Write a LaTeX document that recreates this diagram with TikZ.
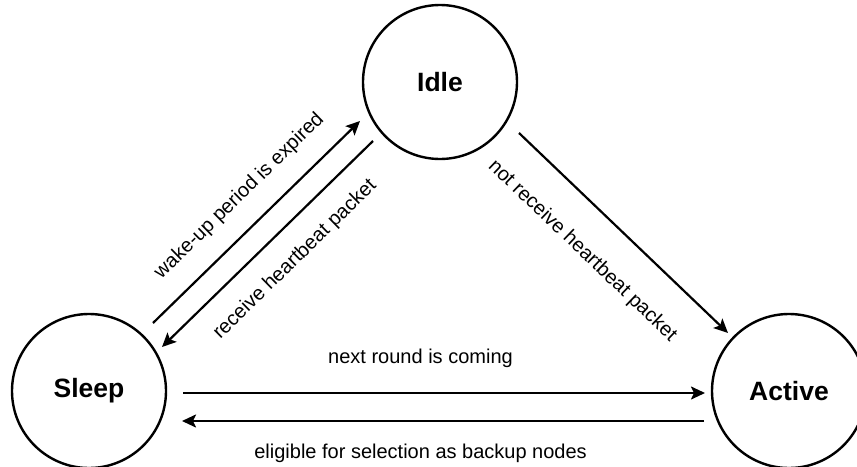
\documentclass[tikz,border=0pt]{standalone}
\usepackage{fontspec}
\setmainfont{Liberation Sans}
\usetikzlibrary{arrows.meta}

\begin{document}
\begin{tikzpicture}[x=1pt, y=-1pt,
			state/.style={draw, circle, line width=2.4pt, minimum size=154pt, inner sep=0pt,
				font=\fontsize{26.5}{30}\selectfont\bfseries},
			trans/.style={line width=2.2pt, -{Stealth[length=14pt, width=13pt, inset=3pt]}},
			lbl/.style={font=\fontsize{20}{24}\selectfont, inner sep=0pt}]
			\clip (0,0) rectangle (857,466);
			\node[state] (idle) at (440,82) {Idle};
			\node[state] (sleep) at (89,391) {Sleep};
			\node[state] (active) at (789,391) {Active};
			\draw[trans] ([shift={(64,-68)}]sleep.center) -- node[lbl, sloped, pos=0.52, above=20pt] {wake-up period is expired} ([shift={(-80,39)}]idle.center);
			\draw[trans] ([shift={(-67,59)}]idle.center) -- node[lbl, sloped, pos=0.47, below=20pt] {receive heartbeat packet} ([shift={(73,-44)}]sleep.center);
			\draw[trans] ([shift={(79,51)}]idle.center) -- node[lbl, sloped, pos=0.44, below=31pt] {not receive heartbeat packet} ([shift={(-61,-58)}]active.center);
			\draw[trans] ([shift={(94,2)}]sleep.center) -- node[lbl, pos=0.455, above=24pt] {next round is coming} ([shift={(-84,2)}]active.center);
			\draw[trans] ([shift={(-85,30)}]active.center) -- node[lbl, pos=0.543, below=22pt] {eligible for selection as backup nodes} ([shift={(93,30)}]sleep.center);
		\end{tikzpicture}
\end{document}
